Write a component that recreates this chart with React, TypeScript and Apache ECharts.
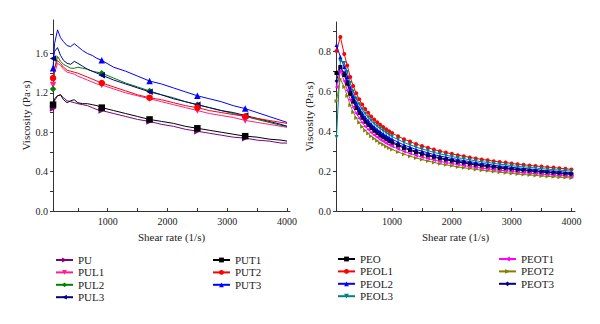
import React, { useEffect, useRef } from "react";
import * as echarts from "echarts";

// ---------- Left panel (PU family) ----------
const LEFT_X = [85, 110, 160, 210, 260, 320, 380, 440, 500, 580, 660, 740, 820, 900, 1100, 1300, 1500, 1700, 1900, 2100, 2300, 2500, 2700, 2900, 3100, 3300, 3500, 3700, 3900, 4000];
const LEFT_MARK_X = [85, 900, 1700, 2500, 3300];

const PU = [1.04, 1.12, 1.17, 1.18, 1.15, 1.12, 1.11, 1.10, 1.09, 1.08, 1.07, 1.05, 1.03, 1.02, 0.99, 0.96, 0.93, 0.91, 0.88, 0.86, 0.83, 0.81, 0.79, 0.77, 0.75, 0.74, 0.72, 0.71, 0.69, 0.69];
const PUL1 = [1.28, 1.40, 1.50, 1.48, 1.44, 1.41, 1.40, 1.39, 1.37, 1.35, 1.33, 1.31, 1.29, 1.28, 1.24, 1.20, 1.17, 1.14, 1.11, 1.08, 1.05, 1.02, 0.99, 0.97, 0.95, 0.92, 0.90, 0.88, 0.86, 0.85];
const PUL2 = [1.24, 1.45, 1.57, 1.52, 1.49, 1.47, 1.45, 1.45, 1.46, 1.45, 1.44, 1.42, 1.41, 1.40, 1.35, 1.30, 1.26, 1.22, 1.18, 1.15, 1.11, 1.08, 1.05, 1.02, 0.99, 0.96, 0.93, 0.90, 0.87, 0.86];
const PUL3 = [1.55, 1.62, 1.66, 1.58, 1.53, 1.50, 1.49, 1.52, 1.50, 1.47, 1.44, 1.42, 1.40, 1.38, 1.33, 1.29, 1.25, 1.21, 1.18, 1.14, 1.11, 1.08, 1.05, 1.02, 1.00, 0.97, 0.94, 0.91, 0.88, 0.86];
const PUT1 = [1.08, 1.14, 1.17, 1.18, 1.13, 1.10, 1.12, 1.13, 1.10, 1.09, 1.09, 1.08, 1.07, 1.05, 1.02, 0.99, 0.96, 0.93, 0.91, 0.89, 0.86, 0.84, 0.82, 0.80, 0.78, 0.76, 0.75, 0.73, 0.72, 0.71];
const PUT2 = [1.35, 1.45, 1.53, 1.50, 1.46, 1.43, 1.42, 1.41, 1.40, 1.38, 1.36, 1.34, 1.32, 1.30, 1.26, 1.22, 1.18, 1.15, 1.13, 1.10, 1.07, 1.05, 1.02, 1.00, 0.98, 0.96, 0.94, 0.92, 0.90, 0.89];
const PUT3 = [1.45, 1.70, 1.84, 1.76, 1.72, 1.68, 1.67, 1.70, 1.67, 1.63, 1.60, 1.58, 1.55, 1.53, 1.46, 1.42, 1.37, 1.32, 1.29, 1.25, 1.21, 1.17, 1.14, 1.11, 1.07, 1.04, 1.00, 0.96, 0.92, 0.90];

// ---------- Right panel (PEO family) ----------
const RIGHT_X = [70, 135, 200, 250, 300, 350, 400, 450, 500, 550, 600, 650, 700, 750, 800, 850, 900, 950, 1000, 1100, 1200, 1300, 1400, 1500, 1600, 1700, 1800, 1900, 2000, 2100, 2200, 2300, 2400, 2500, 2600, 2700, 2800, 2900, 3000, 3100, 3200, 3300, 3400, 3500, 3600, 3700, 3800, 3900, 4000];

const PEO = [0.69, 0.72, 0.68, 0.637, 0.586, 0.547, 0.515, 0.489, 0.466, 0.446, 0.430, 0.414, 0.401, 0.389, 0.377, 0.368, 0.358, 0.349, 0.341, 0.327, 0.314, 0.304, 0.293, 0.284, 0.277, 0.269, 0.262, 0.256, 0.250, 0.244, 0.240, 0.235, 0.230, 0.226, 0.222, 0.218, 0.214, 0.212, 0.208, 0.205, 0.202, 0.200, 0.197, 0.194, 0.192, 0.190, 0.187, 0.185, 0.183];
const PEOL1 = [0.80, 0.87, 0.785, 0.728, 0.670, 0.625, 0.589, 0.559, 0.533, 0.510, 0.491, 0.473, 0.458, 0.444, 0.431, 0.420, 0.409, 0.399, 0.390, 0.374, 0.359, 0.347, 0.335, 0.325, 0.316, 0.307, 0.299, 0.292, 0.286, 0.279, 0.274, 0.268, 0.263, 0.258, 0.254, 0.249, 0.245, 0.242, 0.238, 0.234, 0.231, 0.228, 0.225, 0.222, 0.219, 0.217, 0.214, 0.211, 0.208];
const PEOL2 = [0.83, 0.77, 0.72, 0.670, 0.616, 0.575, 0.542, 0.514, 0.490, 0.469, 0.452, 0.435, 0.421, 0.408, 0.397, 0.386, 0.376, 0.367, 0.359, 0.344, 0.330, 0.319, 0.308, 0.299, 0.291, 0.282, 0.275, 0.269, 0.263, 0.257, 0.252, 0.247, 0.242, 0.237, 0.234, 0.229, 0.225, 0.223, 0.219, 0.215, 0.213, 0.210, 0.207, 0.204, 0.201, 0.200, 0.197, 0.194, 0.192];
const PEOL3 = [0.37, 0.75, 0.74, 0.695, 0.640, 0.597, 0.562, 0.534, 0.509, 0.487, 0.469, 0.452, 0.437, 0.424, 0.412, 0.401, 0.391, 0.381, 0.372, 0.357, 0.343, 0.331, 0.320, 0.310, 0.302, 0.293, 0.286, 0.279, 0.273, 0.266, 0.262, 0.256, 0.251, 0.246, 0.243, 0.238, 0.234, 0.231, 0.227, 0.223, 0.221, 0.218, 0.215, 0.212, 0.209, 0.207, 0.204, 0.202, 0.199];
const PEOT1 = [0.62, 0.70, 0.65, 0.604, 0.556, 0.519, 0.489, 0.464, 0.442, 0.423, 0.408, 0.393, 0.380, 0.369, 0.358, 0.349, 0.339, 0.331, 0.324, 0.310, 0.298, 0.288, 0.278, 0.270, 0.262, 0.255, 0.248, 0.242, 0.237, 0.232, 0.227, 0.222, 0.218, 0.214, 0.211, 0.207, 0.203, 0.201, 0.198, 0.194, 0.192, 0.189, 0.187, 0.184, 0.182, 0.180, 0.178, 0.175, 0.173];
const PEOT2 = [0.55, 0.66, 0.62, 0.575, 0.529, 0.494, 0.465, 0.442, 0.421, 0.403, 0.388, 0.374, 0.362, 0.351, 0.340, 0.332, 0.323, 0.315, 0.308, 0.295, 0.284, 0.274, 0.265, 0.257, 0.250, 0.243, 0.236, 0.231, 0.226, 0.220, 0.216, 0.212, 0.208, 0.204, 0.201, 0.197, 0.194, 0.191, 0.188, 0.185, 0.182, 0.180, 0.178, 0.175, 0.173, 0.171, 0.169, 0.167, 0.165];
const PEOT3 = [0.65, 0.72, 0.69, 0.648, 0.596, 0.556, 0.524, 0.498, 0.474, 0.454, 0.437, 0.421, 0.408, 0.395, 0.384, 0.374, 0.364, 0.355, 0.347, 0.333, 0.320, 0.309, 0.298, 0.289, 0.281, 0.273, 0.266, 0.260, 0.255, 0.248, 0.244, 0.239, 0.234, 0.230, 0.226, 0.222, 0.218, 0.215, 0.212, 0.208, 0.206, 0.203, 0.200, 0.198, 0.195, 0.193, 0.190, 0.188, 0.186];

// ---------- Ticks ----------
const X_LABELS = [1000, 2000, 3000, 4000];
const X_TICKS = [500, 1000, 1500, 2000, 2500, 3000, 3500, 4000];
const LEFT_Y_LABELS = [0, 0.4, 0.8, 1.2, 1.6];
const LEFT_Y_TICKS = [0, 0.2, 0.4, 0.6, 0.8, 1.0, 1.2, 1.4, 1.6, 1.8];
const RIGHT_Y_LABELS = [0, 0.2, 0.4, 0.6, 0.8];
const RIGHT_Y_TICKS = [0, 0.1, 0.2, 0.3, 0.4, 0.5, 0.6, 0.7, 0.8, 0.9];

const FONT = "Liberation Serif";
const AXIS_COLOR = "#333";

type Def = { name: string; data: number[]; color: string; symbol: string; rotate: number };

const leftDefs: Def[] = [
  { name: "PU", data: PU, color: "#800080", symbol: "triangle", rotate: -90 },
  { name: "PUL1", data: PUL1, color: "#FF1E8C", symbol: "triangle", rotate: 180 },
  { name: "PUL2", data: PUL2, color: "#008000", symbol: "diamond", rotate: 0 },
  { name: "PUL3", data: PUL3, color: "#000080", symbol: "triangle", rotate: 90 },
  { name: "PUT1", data: PUT1, color: "#000000", symbol: "rect", rotate: 0 },
  { name: "PUT2", data: PUT2, color: "#FF0000", symbol: "circle", rotate: 0 },
  { name: "PUT3", data: PUT3, color: "#0000FF", symbol: "triangle", rotate: 0 },
];

const rightDefs: Def[] = [
  { name: "PEO", data: PEO, color: "#000000", symbol: "rect", rotate: 0 },
  { name: "PEOL1", data: PEOL1, color: "#FF0000", symbol: "circle", rotate: 0 },
  { name: "PEOL2", data: PEOL2, color: "#0000FF", symbol: "triangle", rotate: 0 },
  { name: "PEOL3", data: PEOL3, color: "#008080", symbol: "triangle", rotate: 180 },
  { name: "PEOT1", data: PEOT1, color: "#FF00FF", symbol: "triangle", rotate: 90 },
  { name: "PEOT2", data: PEOT2, color: "#808000", symbol: "triangle", rotate: -90 },
  { name: "PEOT3", data: PEOT3, color: "#000080", symbol: "diamond", rotate: 0 },
];

function xAxisCfg(gridIndex: number, min: number, max: number) {
  return {
    type: "value",
    gridIndex,
    min,
    max,
    name: "Shear rate (1/s)",
    nameLocation: "middle",
    nameGap: 20,
    nameTextStyle: { fontFamily: FONT, fontSize: 11, color: "#222" },
    axisLine: { show: true, lineStyle: { color: AXIS_COLOR, width: 1 } },
    axisTick: { show: true, inside: true, length: 3, customValues: X_TICKS, lineStyle: { color: AXIS_COLOR } },
    axisLabel: {
      customValues: X_LABELS,
      fontFamily: FONT,
      fontSize: 10,
      color: "#222",
      margin: 5,
      formatter: (v: number) => String(Math.round(v)),
    },
    splitLine: { show: false },
  };
}

function yAxisCfg(gridIndex: number, max: number, labels: number[], ticks: number[]) {
  return {
    type: "value",
    gridIndex,
    min: 0,
    max,
    name: "Viscosity (Pa·s)",
    nameLocation: "middle",
    nameGap: 20,
    nameTextStyle: { fontFamily: FONT, fontSize: 11, color: "#222" },
    axisLine: { show: true, lineStyle: { color: AXIS_COLOR, width: 1 } },
    axisTick: { show: true, inside: false, length: 3, customValues: ticks, lineStyle: { color: AXIS_COLOR } },
    axisLabel: {
      customValues: labels,
      fontFamily: FONT,
      fontSize: 10,
      color: "#222",
      margin: 5,
      formatter: (v: number) => v.toFixed(1),
    },
    splitLine: { show: false },
  };
}

function legendCfg(names: string[], left: number, top: number) {
  return {
    data: names,
    orient: "vertical",
    left,
    top,
    padding: 0,
    itemWidth: 17,
    itemHeight: 6,
    itemGap: 0.4,
    textStyle: { fontFamily: FONT, fontSize: 11, color: "#222", lineHeight: 12 },
  };
}

export default function App() {
  const ref = useRef<HTMLDivElement>(null);

  useEffect(() => {
    if (!ref.current) return;
    const chart = echarts.init(ref.current, undefined, { renderer: "svg" });

    const leftSeries = leftDefs.map((d) => ({
      name: d.name,
      type: "line",
      xAxisIndex: 0,
      yAxisIndex: 0,
      data: LEFT_X.map((x, i) => [x, d.data[i]]),
      symbol: d.symbol,
      symbolRotate: d.rotate,
      symbolSize: (v: number[]) => (LEFT_MARK_X.includes(v[0]) ? 6.5 : 0),
      showAllSymbol: true,
      lineStyle: { color: d.color, width: 1 },
      itemStyle: { color: d.color },
      emphasis: { disabled: true },
    }));

    const rightSeries = rightDefs.map((d) => ({
      name: d.name,
      type: "line",
      xAxisIndex: 1,
      yAxisIndex: 1,
      data: RIGHT_X.map((x, i) => [x, d.data[i]]),
      symbol: d.symbol,
      symbolRotate: d.rotate,
      symbolSize: 4,
      showAllSymbol: true,
      lineStyle: { color: d.color, width: 1 },
      itemStyle: { color: d.color },
      emphasis: { disabled: true },
    }));

    chart.setOption({
      animation: false,
      backgroundColor: "#ffffff",
      grid: [
        { left: 53, top: 20, width: 237, height: 191 },
        { left: 336, top: 22, width: 239, height: 189 },
      ],
      xAxis: [xAxisCfg(0, 84, 4050), xAxisCfg(1, 62, 4060)],
      yAxis: [
        yAxisCfg(0, 1.94, LEFT_Y_LABELS, LEFT_Y_TICKS),
        yAxisCfg(1, 0.945, RIGHT_Y_LABELS, RIGHT_Y_TICKS),
      ],
      legend: [
        legendCfg(["PU", "PUL1", "PUL2", "PUL3"], 55, 254),
        legendCfg(["PUT1", "PUT2", "PUT3"], 212, 254),
        legendCfg(["PEO", "PEOL1", "PEOL2", "PEOL3"], 337, 253),
        legendCfg(["PEOT1", "PEOT2", "PEOT3"], 498, 253),
      ],
      series: [...leftSeries, ...rightSeries],
    });

    return () => chart.dispose();
  }, []);

  return (
    <div
      ref={ref}
      style={{ position: "fixed", left: 0, top: 0, width: 600, height: 324, background: "#fff" }}
    />
  );
}
